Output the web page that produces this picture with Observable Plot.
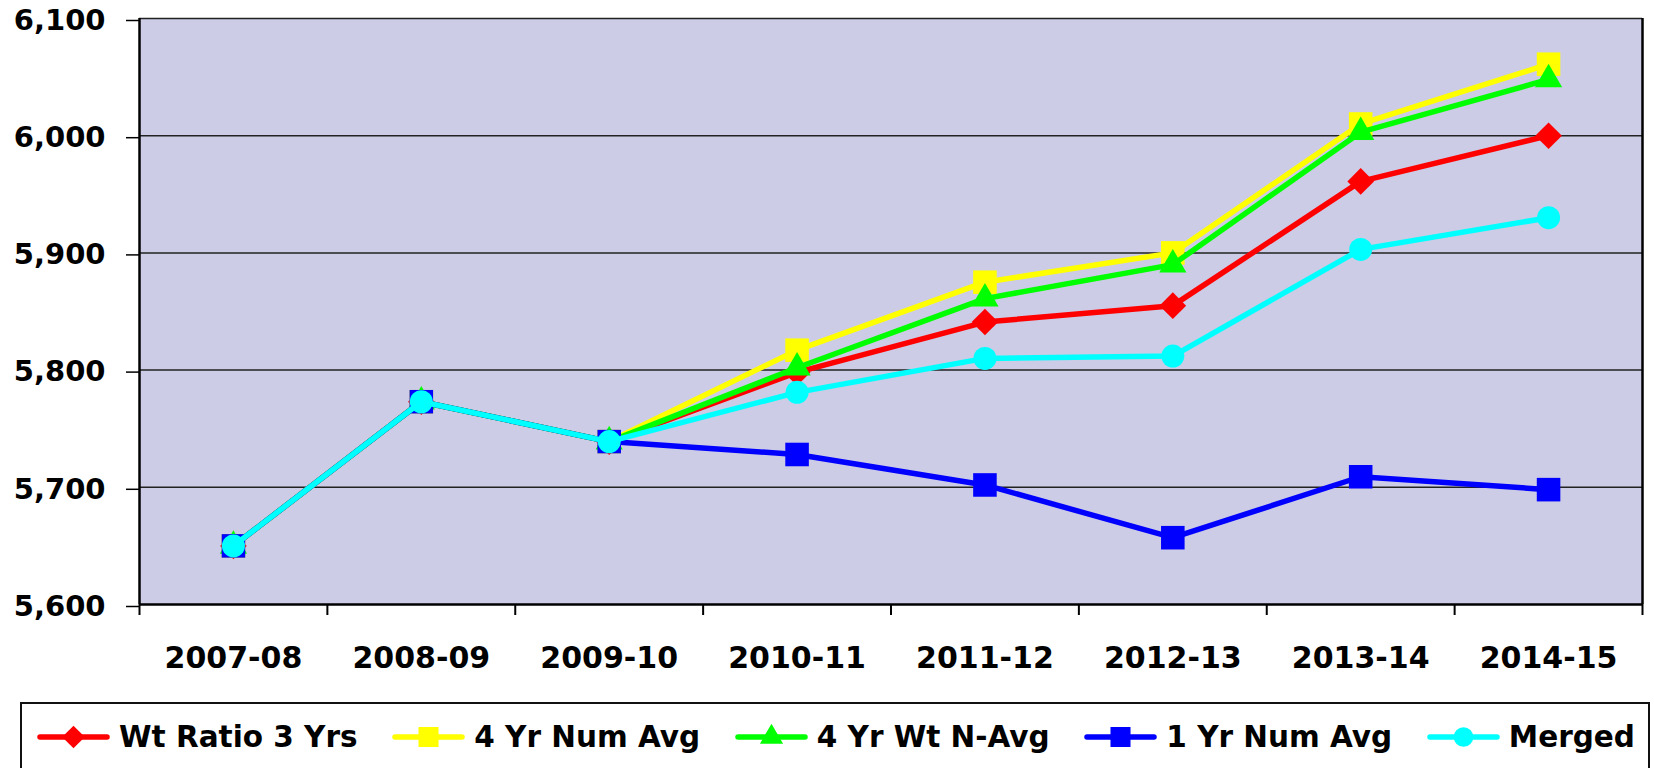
<!DOCTYPE html>
<html><head><meta charset="utf-8">
<script src="https://cdn.jsdelivr.net/npm/d3@7"></script>
<script src="https://cdn.jsdelivr.net/npm/@observablehq/plot@0.6"></script>
<style>
html,body{margin:0;padding:0;background:#fff;width:1654px;height:768px;overflow:hidden;}
#chart{position:absolute;left:0;top:0;}
#legend{position:absolute;left:20px;top:702px;width:1630px;height:90px;border:2px solid #111;box-sizing:border-box;display:flex;justify-content:space-between;align-items:flex-start;padding:16px 13px 0 15px;font-family:"DejaVu Sans";font-weight:bold;font-size:29.5px;color:#000;background:#fff;}
.item{display:flex;align-items:center;height:34px;white-space:nowrap;}
.item svg{margin-right:9px;display:block;}
</style></head><body>
<div id="chart"></div><div id="legend"></div>
<script>
const categories = ["2007-08","2008-09","2009-10","2010-11","2011-12","2012-13","2013-14","2014-15"];
const seriesNames = ["Wt Ratio 3 Yrs","4 Yr Num Avg","4 Yr Wt N-Avg","1 Yr Num Avg","Merged"];
const wtRatio3Yrs = [5650, 5773, 5739, 5798, 5841, 5855, 5961, 6000];
const numAvg4Yr   = [5650, 5773, 5739, 5817, 5875, 5900, 6010, 6061];
const wtNAvg4Yr   = [5650, 5773, 5739, 5802, 5861, 5890, 6003, 6048];
const numAvg1Yr   = [5650, 5773, 5739, 5728, 5702, 5657, 5709, 5698];
const merged      = [5650, 5773, 5739, 5781, 5810, 5812, 5903, 5930];
const yTicks = [5600, 5700, 5800, 5900, 6000, 6100];

const seriesValues = [wtRatio3Yrs, numAvg4Yr, wtNAvg4Yr, numAvg1Yr, merged];
const seriesColors = ["#FF0000", "#FFFF00", "#00FF00", "#0000FF", "#00FFFF"];
const seriesSymbols = ["diamond2", "square2", "triangle2", "square2", "circle"];
const seriesR = [12, 15, 13, 15, 11.5];

const rows = [];
seriesNames.forEach((name, si) => seriesValues[si].forEach((v, i) => rows.push({series: name, si, i, cat: categories[i], value: v})));

const marks = [
  Plot.frame({fill: "#CCCCE6", stroke: null}),
  Plot.ruleY(yTicks.slice(1), {stroke: "#222", strokeWidth: 1.5}),
  Plot.ruleX([-0.5, 7.5], {stroke: "#000", strokeWidth: 2.5}),
  Plot.ruleY([5600], {stroke: "#000", strokeWidth: 2.5}),
  Plot.axisY({ticks: yTicks, tickFormat: d3.format(","), tickSize: 13, tickPadding: 21, fontSize: 29, fontWeight: "bold", fontFamily: "DejaVu Sans", strokeWidth: 1.5, dy: 2, label: null}),
  Plot.axisX({ticks: d3.range(categories.length), tickFormat: i => categories[i], tickSize: 0, tickPadding: 42, fontSize: 30, fontWeight: "bold", fontFamily: "DejaVu Sans", label: null}),
  Plot.axisX({ticks: d3.range(-0.5, categories.length, 1), tickFormat: () => "", tickSize: 11, strokeWidth: 2, label: null})
];
seriesNames.forEach((name, si) => {
  const d = rows.filter(r => r.si === si);
  marks.push(Plot.line(d, {x: "i", y: "value", stroke: seriesColors[si], strokeWidth: 5.5}));
  marks.push(Plot.dot(d, {x: "i", y: "value", fill: seriesColors[si], stroke: "none", symbol: seriesSymbols[si], r: seriesR[si]}));
});

const chart = Plot.plot({
  width: 1654, height: 700,
  marginLeft: 139, marginRight: 12, marginTop: 18, marginBottom: 96,
  x: {domain: [-0.5, categories.length - 0.5], label: null},
  y: {domain: [5600, 6100], label: null},
  style: {background: "#fff", color: "#000"},
  marks
});
document.getElementById("chart").appendChild(chart);

const legend = d3.select("#legend");
const symMap = {diamond2: d3.symbolDiamond2, square2: d3.symbolSquare2, triangle2: d3.symbolTriangle2, circle: d3.symbolCircle};
seriesNames.forEach((name, si) => {
  const item = legend.append("div").attr("class", "item");
  const svg = item.append("svg").attr("width", 73).attr("height", 34);
  svg.append("line").attr("x1", 3).attr("x2", 70).attr("y1", 17).attr("y2", 17)
    .attr("stroke", seriesColors[si]).attr("stroke-width", 5.5).attr("stroke-linecap", "round");
  const r = seriesR[si] * 0.85;
  svg.append("path").attr("transform", "translate(36.5,17)")
    .attr("d", d3.symbol(symMap[seriesSymbols[si]], Math.PI * r * r)())
    .attr("fill", seriesColors[si]);
  item.append("span").text(name);
});
</script>
</body></html>
